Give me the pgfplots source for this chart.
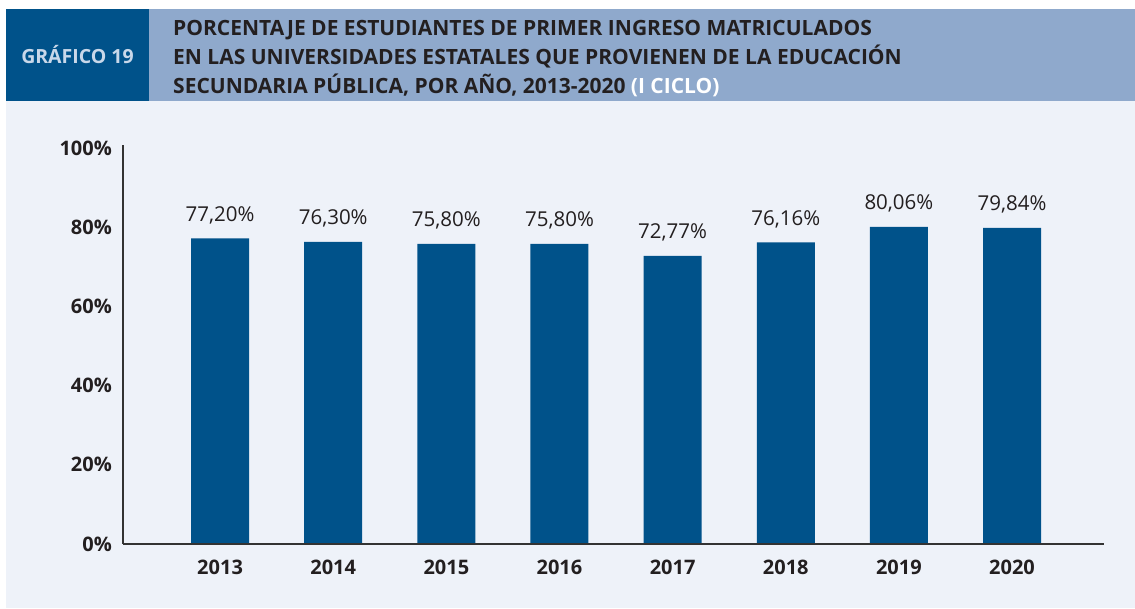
\documentclass[border=0pt]{standalone}
\usepackage{pgfplots}
\pgfplotsset{compat=1.18}
\usepackage{pgfplotstable}
\usepackage{fontspec}
\setmainfont{Open Sans}
\definecolor{barblue}{HTML}{00528A}
\definecolor{headblue}{HTML}{8FA9CC}
\definecolor{panel}{HTML}{EEF2F9}
\definecolor{graf}{HTML}{C9D8EA}
\definecolor{txt}{HTML}{231F20}
\definecolor{axisgray}{HTML}{333333}
\pgfplotstableread{
x val label
0 77.20 {77,20\%}
1 76.30 {76,30\%}
2 75.80 {75,80\%}
3 75.80 {75,80\%}
4 72.77 {72,77\%}
5 76.16 {76,16\%}
6 80.06 {80,06\%}
7 79.84 {79,84\%}
}\datatable
\begin{document}
\begin{tikzpicture}
\useasboundingbox (0,0) rectangle (1135pt,609pt);
\fill[white] (0,0) rectangle (1135pt,609pt);
\fill[panel] (6pt,1pt) rectangle (1135pt,508pt);
\fill[barblue] (6pt,508pt) rectangle (149pt,600pt);
\fill[headblue] (149pt,508pt) rectangle (1135pt,600pt);
\node[anchor=base, text=graf, font=\fontsize{19.5}{24}\selectfont\bfseries, inner sep=0pt] at (77.5pt,545pt) {GRÁFICO 19};
\node[anchor=base west, text=txt, font=\fontsize{21}{24}\selectfont\bfseries, inner sep=0pt] at (173pt,573pt) {PORCENTAJE DE ESTUDIANTES DE PRIMER INGRESO MATRICULADOS};
\node[anchor=base west, text=txt, font=\fontsize{21}{24}\selectfont\bfseries, inner sep=0pt] at (173pt,544pt) {EN LAS UNIVERSIDADES ESTATALES QUE PROVIENEN DE LA EDUCACIÓN};
\node[anchor=base west, text=txt, font=\fontsize{21}{24}\selectfont\bfseries, inner sep=0pt] at (173pt,515.5pt) {SECUNDARIA PÚBLICA, POR AÑO, 2013-2020 \textcolor{white}{(I CICLO)}};
\begin{axis}[
  at={(123pt,65pt)}, anchor=south west,
  scale only axis, width=981pt, height=399pt,
  xmin=-0.858, xmax=7.813, ymin=0, ymax=100.75,
  axis lines*=left,
  axis line style={axisgray, line width=1.2pt, -},
  ytick={0,20,40,60,80,100},
  yticklabel={\pgfmathprintnumber{\tick}\%},
  /pgf/number format/assume math mode=true,
  major tick length=0pt,
  yticklabel style={font=\fontsize{20}{24}\selectfont\bfseries, text=txt, anchor=east, inner sep=0pt, xshift=-11pt},
  xtick=data,
  xticklabels={2013,2014,2015,2016,2017,2018,2019,2020},
  xticklabel style={font=\fontsize{20}{24}\selectfont\bfseries, text=txt, anchor=north, inner sep=0pt, yshift=-16pt},
  clip=false,
  axis on top,
]
\addplot[ybar, bar width=58pt, fill=barblue, draw=none,
  point meta=explicit symbolic,
  nodes near coords,
  every node near coord/.append style={anchor=base, yshift=17pt, inner sep=0pt, font=\fontsize{20.5}{24}\selectfont, text=txt},
] table[x=x, y=val, meta=label] {\datatable};
\end{axis}
\end{tikzpicture}
\end{document}
